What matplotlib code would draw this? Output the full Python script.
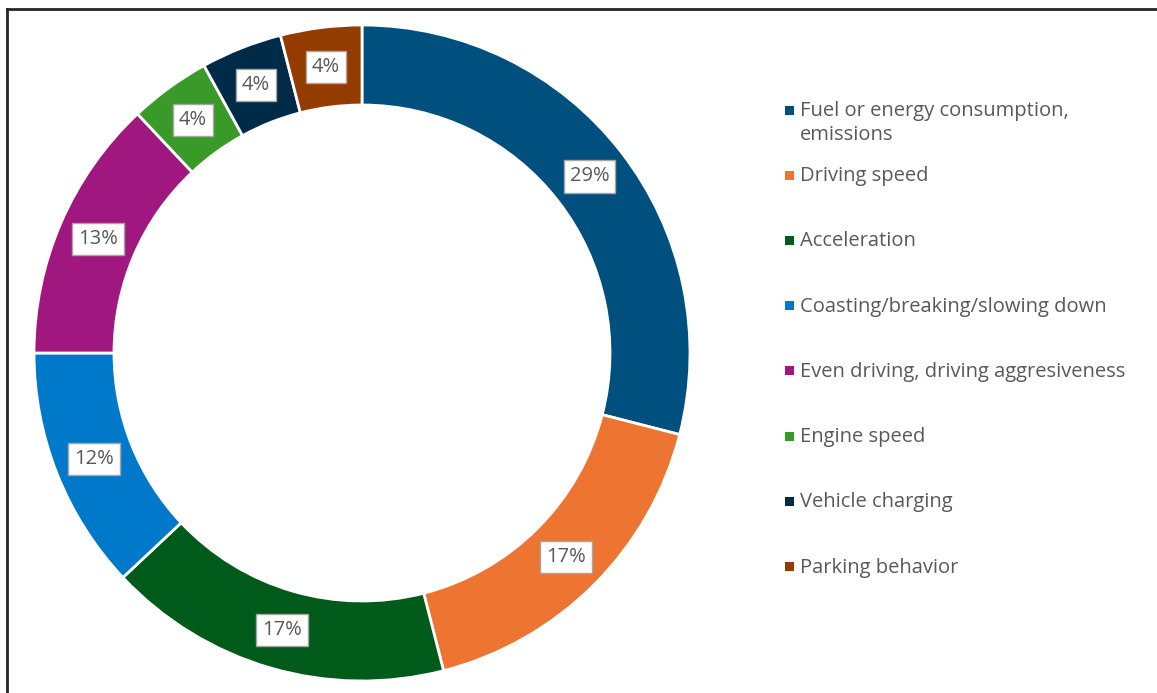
import matplotlib
matplotlib.use("Agg")
import matplotlib.pyplot as plt
from matplotlib.lines import Line2D

# -------------------------------------------------------
# DATA
# -------------------------------------------------------
categories = [
    "Fuel or energy consumption,\nemissions",
    "Driving speed",
    "Acceleration",
    "Coasting/breaking/slowing down",
    "Even driving, driving aggresiveness",
    "Engine speed",
    "Vehicle charging",
    "Parking behavior",
]
shares = [29, 17, 17, 12, 13, 4, 4, 4]
colors = ["#00507F", "#EE7431", "#005A1A", "#0079CB", "#A0177F",
          "#3A9A29", "#002B48", "#943C00"]

W, H = 1157, 693
fig = plt.figure(figsize=(W / 100, H / 100), dpi=100)
plt.rcParams["font.family"] = ["Open Sans", "DejaVu Sans"]
text_grey = "#595959"

# donut axes (pixel box 34..690 x, 25..681 y)
cx, cy, r = 362, 353, 328
ax = fig.add_axes([(cx - r) / W, (H - cy - r) / H, 2 * r / W, 2 * r / H])
ring = 80 / r

wedges, texts, autotexts = ax.pie(
    shares,
    colors=colors,
    startangle=90,
    counterclock=False,
    radius=1,
    autopct="%.0f%%",
    pctdistance=1 - ring / 2,
    wedgeprops=dict(width=ring, edgecolor="white", linewidth=2),
    textprops=dict(color=text_grey, fontsize=14.5),
)
for t in autotexts:
    t.set_bbox(dict(facecolor="white", edgecolor="#A6A6A6", boxstyle="square,pad=0.3", linewidth=1))
ax.set_xlim(-1, 1)
ax.set_ylim(-1, 1)
ax.axis("off")

# -------------------------------------------------------
# LEGEND (manual, to match the spacing)
# -------------------------------------------------------
step = 65.3
y_centers = [110, 175, 175 + step, 175 + 2 * step, 175 + 3 * step,
             175 + 4 * step, 175 + 5 * step, 175 + 6 * step]
for label, col, yc in zip(categories, colors, y_centers):
    fig.patches.append(plt.Rectangle(((789 - 4.5) / W, 1 - (yc + 4.5) / H), 9 / W, 9 / H,
                                     transform=fig.transFigure, facecolor=col, edgecolor="none"))
    fig.text(800 / W, 1 - (yc - 9) / H, label, ha="left", va="top",
             fontsize=14.5, color=text_grey, linespacing=1.3)

# outer frame (only top and left are visible in the reference)
fig.add_artist(Line2D([6.5 / W, 1], [1 - 8.5 / H, 1 - 8.5 / H], transform=fig.transFigure,
                      color="#262626", linewidth=2))
fig.add_artist(Line2D([6.5 / W, 6.5 / W], [0, 1 - 8.5 / H], transform=fig.transFigure,
                      color="#262626", linewidth=2))

fig.savefig("out.png", dpi=100)
